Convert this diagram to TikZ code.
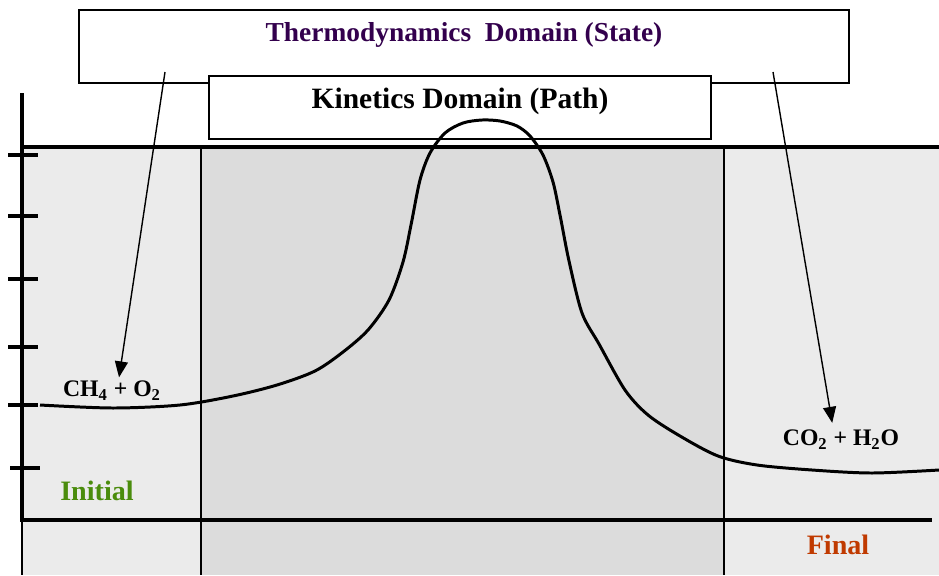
\documentclass[tikz,border=0pt]{standalone}
\usepackage{fontspec}
\setmainfont{Liberation Serif}
\usetikzlibrary{arrows.meta}
\definecolor{lightshade}{HTML}{EBEBEB}
\definecolor{darkshade}{HTML}{DCDCDC}
\definecolor{statepurple}{HTML}{33004D}
\definecolor{initgreen}{HTML}{4A8C0C}
\definecolor{finalred}{HTML}{C03A00}
\tikzset{
  domainbox/.style={draw, line width=0.9pt, fill=white, inner sep=0pt},
  species/.style={font=\fontsize{13.5}{15}\selectfont\bfseries, inner sep=2pt},
  stage/.style={font=\fontsize{16}{18}\selectfont\bfseries}
}
\begin{document}
\begin{tikzpicture}[x=0.02cm, y=-0.02cm, >={Triangle[length=0.32cm, width=0.26cm]}]
        \useasboundingbox (0,0) rectangle (939,575);

        % Shaded panels: initial, path, final
        \fill[lightshade] (22,147) rectangle (939,575);
        \fill[darkshade] (201,147) rectangle (724,575);
        \draw[line width=1.2pt] (201,147)--(201,575);
        \draw[line width=1.2pt] (724,147)--(724,575);
        \draw[line width=1.8pt] (22,147)--(939,147);

        % Axes
        \draw[line width=2.2pt] (22,93)--(22,520)--(932,520);
        \draw[line width=1pt] (22,520)--(22,575);

        %Tickmarks
        \draw[line width=2pt] (8,155)--(38,155);
        \draw[line width=2pt] (8,216)--(38,216);
        \draw[line width=2pt] (8,279)--(38,279);
        \draw[line width=2pt] (8,347)--(38,347);
        \draw[line width=2pt] (8,405)--(38,405);
        \draw[line width=2pt] (10,468)--(40,468);

        % Domain boxes
        \node[domainbox, minimum width=15.4cm, minimum height=1.46cm] (thermo) at (464,46.5) {};
        \node[font=\fontsize{15.6}{17}\selectfont\bfseries, text=statepurple] (thermotext) at (464,35) {Thermodynamics\ \ Domain (State)};
        \node[domainbox, minimum width=10.04cm, minimum height=1.26cm] (kinetics) at (460,107.5) {};
        \node[font=\fontsize{16.8}{19}\selectfont\bfseries] (kineticstext) at (460,101) {Kinetics Domain (Path)};

        % Reaction path
        \draw[line width=1.7pt, line join=round] plot[smooth, tension=0.5] coordinates {
          (40,405) (113,408) (180,405) (233,396) (277,385) (315,371) (343,352)
          (368,330) (389,300) (403,262) (411,225) (420,180) (430,153) (445,133)
          (463,123) (482,120) (500,121) (517,126) (530,136) (543,155) (553,182)
          (560,215) (569,261) (582,313) (599,344) (625,390) (648,415) (680,436)
          (718,456) (757,465) (812,470) (872,473) (939,470)};

        % States
        \node[species] (ch4) at (112,391) {CH\textsubscript{4} + O\textsubscript{2}};
        \node[species] (co2) at (841,440) {CO\textsubscript{2} + H\textsubscript{2}O};
        \node[stage, text=initgreen] (initial) at (97,491) {Initial};
        \node[stage, text=finalred] (final) at (838,545) {Final};

        % Arrows from state domain
        \coordinate (thermoL) at (165,72);
        \coordinate (thermoR) at (773,72);
        \draw[->, line width=0.8pt] (thermoL)--([xshift=4pt]ch4.north);
        \draw[->, line width=0.8pt] (thermoR)--([xshift=-5pt, yshift=2pt]co2.north);
\end{tikzpicture}
\end{document}
